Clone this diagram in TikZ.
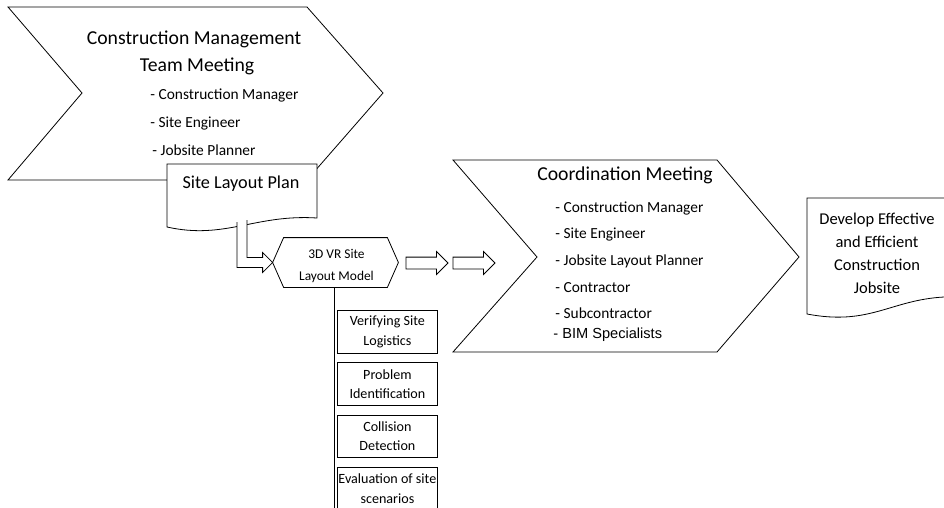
\documentclass[tikz,border=0pt]{standalone}
\usepackage{fontspec}
\setmainfont{Carlito}
\newfontfamily\arialfont{Liberation Sans}
\usetikzlibrary{arrows.meta,positioning,calc,shapes.arrows}

\begin{document}
\begin{tikzpicture}[
  x=1pt, y=-1pt,
  line width=0.8pt,
  shp/.style={draw, fill=white, line join=miter},
  ttl/.style={font=\fontsize{19.7}{24}\selectfont, anchor=base, inner sep=0pt},
  item/.style={font=\fontsize{15.4}{19}\selectfont, anchor=base west, inner sep=0pt},
  sub/.style={draw, fill=white, align=center, inner sep=0pt, minimum width=100pt,
    minimum height=42.5pt, font=\fontsize{14.1}{19.5}\selectfont},
  blk/.style={single arrow, draw, fill=white, minimum width=22pt, minimum height=42pt,
    inner sep=5.5pt, single arrow head extend=5.5pt, single arrow tip angle=90}
]
\useasboundingbox (0,0) rectangle (944,508);
\clip (0,0) rectangle (944,508);

% management meeting
\draw[shp] (8,7) -- (307,7) -- (383,93) -- (307,180) -- (8,180) -- (82,93) -- cycle;
\node[ttl] (cmt) at (194,45) {Construction Management};
\node[ttl] (cmtb) at (197,72) {Team Meeting};
\node[item] (cm1) at (150,100) {- Construction Manager};
\node[item] (cm2) at (150,128) {- Site Engineer};
\node[item] (cm3) at (152,155) {- Jobsite Planner};

% site layout plan
\draw[shp] (167,164) -- (317,164) -- (317,218)
  .. controls (255,214) and (225,240) .. (167,227) -- cycle;
\node[ttl, font=\fontsize{18.2}{22}\selectfont] (plan) at (241,188) {Site Layout Plan};
\coordinate (planfoot) at (242,222);

% 3D VR model
\node[minimum width=125pt, minimum height=49pt] (model) at (335.5,262.5) {};
\draw ($(model.west)$) -- ($(model.north west)+(11,0)$) -- ($(model.north east)+(-11,0)$)
  -- (model.east) -- ($(model.south east)+(-11,0)$) -- ($(model.south west)+(11,0)$) -- cycle;
\node[inner sep=0pt, align=center, font=\fontsize{13.4}{22}\selectfont] (modeltxt)
  at ($(model.center)+(1,3)$) {3D VR Site\\Layout Model};
\draw[shp] ($(planfoot)+(-5,0)$) |- ($(model.west)+(-10,5)$) -- ++(0,5)
  -- (model.west) -- ($(model.west)+(-10,-10)$) -- ++(0,5) -| ($(planfoot)+(5,-2)$);

% tasks
\node[sub, anchor=north west] (sub1) at (337,310) {Verifying Site\\Logistics};
\node[sub, below=9pt of sub1] (sub2) {Problem\\Identification};
\node[sub, below=9pt of sub2] (sub3) {Collision\\Detection};
\node[sub, below=9pt of sub3] (sub4) {Evaluation of site\\scenarios};
\draw ($(model.south)+(-1,0)$) -- ($(model.south |- sub4.south)+(-1,0)$);

% arrows
\node[blk] (arrA) at (424,263) {};
\node[blk] (arrB) at (471,263) {};

% coordination meeting
\draw[shp] (453,160) -- (717,160) -- (799,257) -- (717,352) -- (453,352) -- (537,257) -- cycle;
\node[ttl] (coord) at (625,180) {Coordination Meeting};
\node[item] (co1) at (555,212) {- Construction Manager};
\node[item] (co2) at (555,238) {- Site Engineer};
\node[item] (co3) at (555,265) {- Jobsite Layout Planner};
\node[item] (co4) at (555,292) {- Contractor};
\node[item] (co5) at (555,318) {- Subcontractor};
\node[item, font=\arialfont\fontsize{14.6}{16}\selectfont] (co6) at (553,338) {- BIM Specialists};

% outcome
\draw[shp] (807,198) -- (960,198) -- (960,295) -- (944,297)
  .. controls (890,300) and (870,326) .. (807,314) -- cycle;
\node[align=center, inner sep=0pt, font=\fontsize{16.5}{23}\selectfont] (goal)
  at (877,253) {Develop Effective\\and Efficient\\Construction\\Jobsite};
\end{tikzpicture}
\end{document}
